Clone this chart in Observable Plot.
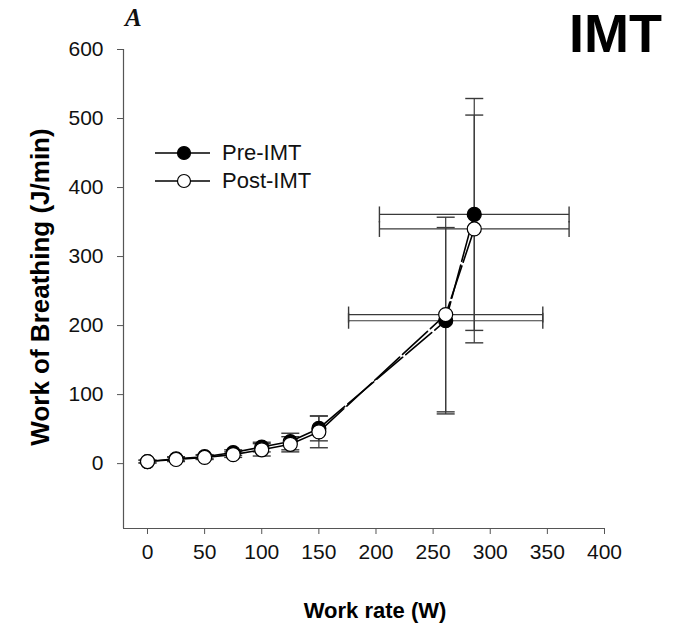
<!DOCTYPE html>
<html>
<head>
<meta charset="utf-8">
<script src="https://cdn.jsdelivr.net/npm/d3@7"></script>
<script src="https://cdn.jsdelivr.net/npm/@observablehq/plot@0.6"></script>
<style>
  body { margin: 0; background: #fff; }
  #wrap { position: relative; width: 679px; height: 627px; font-family: "Liberation Sans", Arial, sans-serif; }
  #wrap svg { display: block; }
  .ov { position: absolute; white-space: nowrap; line-height: 1; }
</style>
</head>
<body>
<div id="wrap"></div>
<script>
// ---- data ----
const preX    = [0, 25, 50, 75, 100, 125, 150, 261, 286];
const preY    = [3, 7, 10, 16, 24, 32, 51, 207, 361];
const preYErr = [2, 3, 3, 4, 7, 12, 18, 135, 168];
const preXErr = [0, 0, 0, 0, 0, 0, 0, 85, 83];

const postX    = [0, 25, 50, 75, 100, 125, 150, 261, 286];
const postY    = [3, 6, 9, 13, 20, 28, 46, 216, 340];
const postYErr = [2, 3, 3, 4, 9, 11, 23, 141, 165];
const postXErr = [0, 0, 0, 0, 0, 0, 0, 85, 83];

const xTicks = [0, 50, 100, 150, 200, 250, 300, 350, 400];
const yTicks = [0, 100, 200, 300, 400, 500, 600];

const seriesNames = ["Pre-IMT", "Post-IMT"];
const chartTitle = "IMT";
const panelLetter = "A";
const xLabel = "Work rate (W)";
const yLabel = "Work of Breathing (J/min)";

// ---- build rows ----
function rows(name, xs, ys, ye, xe) {
  return xs.map((x, i) => ({series: name, x, y: ys[i], ye: ye[i], xe: xe[i], i}));
}
const pre = rows(seriesNames[0], preX, preY, preYErr, preXErr);
const post = rows(seriesNames[1], postX, postY, postYErr, postXErr);
const all = pre.concat(post);

// cap symbols
const hCap = { draw(ctx, size) { const r = Math.sqrt(size / Math.PI); ctx.moveTo(-r, 0); ctx.lineTo(r, 0); } };
const vCap = { draw(ctx, size) { const r = Math.sqrt(size / Math.PI); ctx.moveTo(0, -r); ctx.lineTo(0, r); } };

const ebColor = "#3a3a3a";
const font = "Liberation Sans, Arial, sans-serif";

const xErrRows = all.filter(d => d.xe > 0);

const chart = Plot.plot({
  width: 679,
  height: 627,
  marginLeft: 123,
  marginRight: 75,
  marginTop: 49,
  marginBottom: 99,
  style: { fontFamily: font, background: "#fff", color: "#111" },
  x: { domain: [-21, 400] },
  y: { domain: [-94, 600] },
  marks: [
    // axis lines
    Plot.ruleX([-21], { stroke: "#555", strokeWidth: 1.2 }),
    Plot.ruleY([-94], { stroke: "#555", strokeWidth: 1.2 }),
    Plot.axisX({ ticks: xTicks, tickSize: 6, tickPadding: 10, fontSize: 21, stroke: "#555", label: null, tickFormat: d => String(d) }),
    Plot.axisY({ ticks: yTicks, tickSize: 6, tickPadding: 14, fontSize: 21, stroke: "#555", label: null, tickFormat: d => String(d) }),
    // vertical error bars
    Plot.link(all, { x1: "x", x2: "x", y1: d => d.y - d.ye, y2: d => d.y + d.ye, stroke: ebColor, strokeWidth: 1.2 }),
    Plot.dot(all, { x: "x", y: d => d.y + d.ye, symbol: hCap, r: 9, stroke: ebColor, strokeWidth: 1.4, fill: "none" }),
    Plot.dot(all, { x: "x", y: d => d.y - d.ye, symbol: hCap, r: 9, stroke: ebColor, strokeWidth: 1.4, fill: "none" }),
    // horizontal error bars
    Plot.link(xErrRows, { y1: "y", y2: "y", x1: d => d.x - d.xe, x2: d => d.x + d.xe, stroke: ebColor, strokeWidth: 1.2 }),
    Plot.dot(xErrRows, { y: "y", x: d => d.x - d.xe, symbol: vCap, r: 8, stroke: ebColor, strokeWidth: 1.4, fill: "none" }),
    Plot.dot(xErrRows, { y: "y", x: d => d.x + d.xe, symbol: vCap, r: 8, stroke: ebColor, strokeWidth: 1.4, fill: "none" }),
    // lines: solid part and dashed high part
    Plot.line(pre.filter(d => d.i <= 6), { x: "x", y: "y", stroke: "#000", strokeWidth: 1.6 }),
    Plot.line(post.filter(d => d.i <= 6), { x: "x", y: "y", stroke: "#000", strokeWidth: 1.6 }),
    Plot.line(pre.filter(d => d.i >= 6), { x: "x", y: "y", stroke: "#000", strokeWidth: 1.6, strokeDasharray: "34,4" }),
    Plot.line(post.filter(d => d.i >= 6), { x: "x", y: "y", stroke: "#000", strokeWidth: 1.6, strokeDasharray: "34,4" }),
    // dots
    Plot.dot(pre, { x: "x", y: "y", r: 7, fill: "#000", stroke: "#000", strokeWidth: 1.2 }),
    Plot.dot(post, { x: "x", y: "y", r: 7, fill: "#fff", stroke: "#000", strokeWidth: 1.2 }),
    // axis titles
    Plot.text([yLabel], { frameAnchor: "left", dx: -83, dy: -2, rotate: -90, textAnchor: "middle", lineAnchor: "middle", fontSize: 26, fontWeight: "bold", fill: "#000", text: d => d }),
    Plot.text([xLabel], { frameAnchor: "bottom", dx: 11, dy: 82, lineAnchor: "middle", fontSize: 22, fontWeight: "bold", fill: "#000", text: d => d })
  ]
});

const wrap = document.getElementById("wrap");
wrap.appendChild(chart);

// title and panel letter
const t = document.createElement("div");
t.className = "ov";
t.textContent = chartTitle;
t.style.cssText = "right:17px; top:6px; font-size:54px; font-weight:bold; color:#000;";
wrap.appendChild(t);

const a = document.createElement("div");
a.className = "ov";
a.textContent = panelLetter;
a.style.cssText = "left:125px; top:5px; font-family:'Liberation Serif','Times New Roman',serif; font-style:italic; font-weight:bold; font-size:25px; color:#111;";
wrap.appendChild(a);

// legend
const legend = document.createElement("div");
legend.className = "ov";
legend.style.cssText = "left:150px; top:140px;";
const fills = ["#000", "#fff"];
seriesNames.forEach((name, k) => {
  const row = document.createElement("div");
  row.style.cssText = "position:absolute; left:0; top:" + (k * 27.5) + "px; height:26px; display:flex; align-items:center;";
  row.innerHTML = '<svg width="66" height="26"><line x1="5" y1="13" x2="60" y2="13" stroke="#000" stroke-width="1.5"/><circle cx="34" cy="13" r="6.5" fill="' + fills[k] + '" stroke="#000" stroke-width="1.2"/></svg>' +
    '<span style="font-size:22px; color:#111; margin-left:6px;">' + name + '</span>';
  legend.appendChild(row);
});
wrap.appendChild(legend);
</script>
</body>
</html>
